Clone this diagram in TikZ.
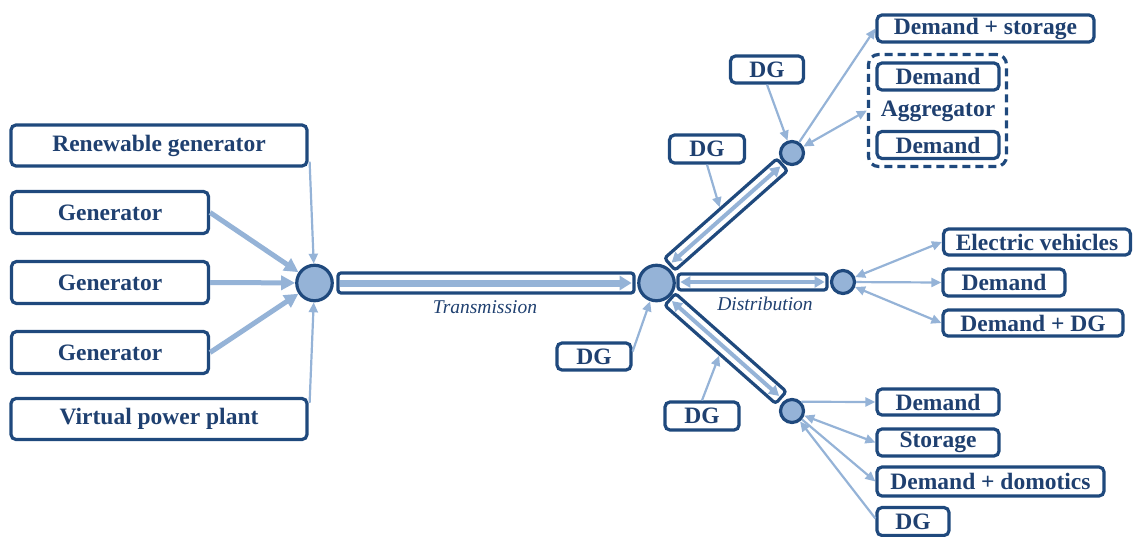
\documentclass[tikz,border=0pt]{standalone}
\usepackage{fontspec}
\setmainfont{Liberation Serif}
\usetikzlibrary{arrows.meta}
\definecolor{dblue}{RGB}{31,73,125}
\definecolor{lblue}{RGB}{149,179,215}
\definecolor{tblue}{RGB}{31,64,112}
\begin{document}
\begin{tikzpicture}[x=1pt,y=-1pt,
  box/.style={draw=dblue, line width=3.2pt, rounded corners=5pt, fill=white,
    inner sep=0pt, text=tblue, font=\fontsize{23.5}{26}\selectfont\bfseries},
  hub/.style={circle, draw=dblue, line width=3.2pt, fill=lblue, inner sep=0pt},
  bigHub/.style={hub, minimum size=35.5pt},
  smallHub/.style={hub, minimum size=23pt},
  bar/.style={draw=dblue, line width=3.2pt, rounded corners=3pt, fill=white, inner sep=0pt},
  link/.style={draw=lblue, line width=2.2pt, -{Triangle[length=10pt,width=9pt]}},
  dlink/.style={draw=lblue, line width=2.2pt, {Triangle[length=10pt,width=9pt]}-{Triangle[length=10pt,width=9pt]}},
  feed/.style={draw=lblue, line width=5pt, -{Triangle[length=14pt,width=14pt]}},
  trans/.style={draw=lblue, line width=7pt, -{Triangle[length=12pt,width=14pt]},
    shorten <=4pt, shorten >=4pt},
  dist/.style={draw=lblue, line width=4pt,
    {Triangle[length=10pt,width=11pt]}-{Triangle[length=10pt,width=11pt]},
    shorten <=4pt, shorten >=4pt},
  lab/.style={text=tblue, font=\fontsize{19.5}{22}\selectfont\itshape}]

\useasboundingbox (0,0) rectangle (1135,536);

% generation side
\node[box, minimum width=296pt, minimum height=41pt] (renew) at (159,145.5) {Renewable generator};
\node[box, minimum width=197pt, minimum height=42pt] (g1) at (110,212.5) {Generator};
\node[box, minimum width=197pt, minimum height=42pt] (g2) at (110,282.5) {Generator};
\node[box, minimum width=197pt, minimum height=42pt] (g3) at (110,352.5) {Generator};
\node[box, minimum width=296pt, minimum height=41pt] (vpp) at (159,419) {Virtual power plant};

% hubs
\node[bigHub] (n1) at (314.5,283) {};
\node[bigHub] (n2) at (656.5,283) {};
\node[smallHub] (nu) at (792,153) {};
\node[smallHub] (nr) at (843,282) {};
\node[smallHub] (nd) at (792,411) {};

% lines between hubs
\node[bar, minimum width=296pt, minimum height=20pt] (tbar) at (486,283) {};
\node[bar, minimum width=149pt, minimum height=16pt] (hbar) at (752.5,282) {};
\node[bar, minimum width=150pt, minimum height=16pt, rotate=41.5] (ubar) at (726,214.5) {};
\node[bar, minimum width=148pt, minimum height=16pt, rotate=-41.5] (dbar) at (725.5,348.5) {};

\draw[trans] (tbar.west) -- (tbar.east);
\draw[dist] (hbar.west) -- (hbar.east);
\draw[dist] (ubar.west) -- (ubar.east);
\draw[dist] (dbar.west) -- (dbar.east);

\node[lab] (tlab) at (485,307) {Transmission};
\node[lab] (dlab) at (765,304) {Distribution};

% distributed generation
\node[box, minimum width=73pt, minimum height=27pt] (dgA) at (767,69.5) {DG};
\node[box, minimum width=75pt, minimum height=28pt] (dgB) at (707,149) {DG};
\node[box, minimum width=74pt, minimum height=27pt] (dgC) at (594,356.5) {DG};
\node[box, minimum width=74pt, minimum height=28pt] (dgD) at (702,416) {DG};
\node[box, minimum width=72pt, minimum height=28pt] (dgE) at (913,521.5) {DG};

% consumers, upper branch
\node[box, minimum width=217pt, minimum height=27pt] (ds) at (985.5,28.5) {Demand + storage};
\node[draw=dblue, line width=3.2pt, dash pattern=on 8pt off 5pt, rounded corners=10pt,
  minimum width=138pt, minimum height=112pt, inner sep=0pt] (agg) at (937.5,110.5) {};
\node[box, minimum width=122pt, minimum height=27pt] (ad1) at (938,76.5) {Demand};
\node[box, minimum width=122pt, minimum height=27pt] (ad2) at (938,145) {Demand};
\node[text=tblue, font=\fontsize{23.5}{26}\selectfont\bfseries] (aggl) at (938,111) {Aggregator};

% consumers, middle branch
\node[box, minimum width=187pt, minimum height=26pt] (ev) at (1037,242) {Electric vehicles};
\node[box, minimum width=122pt, minimum height=27pt] (dm) at (1004,282.5) {Demand};
\node[box, minimum width=180pt, minimum height=26pt] (ddg) at (1033,323) {Demand + DG};

% consumers, lower branch
\node[box, minimum width=122pt, minimum height=26pt] (ld) at (938,402) {Demand};
\node[box, minimum width=122pt, minimum height=27pt] (st) at (938,442.5) {Storage};
\node[box, minimum width=227pt, minimum height=29pt] (dom) at (990.5,481.5) {Demand + domotics};

% feeds into the transmission hub
\draw[link] ([xshift=1pt,yshift=6pt]renew.south east) -- (n1);
\draw[feed] (g1.east) -- (n1);
\draw[feed] (g2.east) -- (n1);
\draw[feed] (g3.east) -- (n1);
\draw[link] ([xshift=1pt,yshift=-6pt]vpp.north east) -- (n1);

% DG connections
\draw[link] (dgA.south) -- (nu);
\draw[link] (dgB.south) -- (ubar.north);
\draw[link] ([yshift=5pt]dgC.east) -- (n2);
\draw[link] (dgD.north) -- (dbar.south);
\draw[link] ([yshift=3pt]dgE.west) -- (nd);

% upper branch links
\draw[link] (nu) -- (ds.west);
\draw[dlink] (nu) -- (agg.west);

% middle branch links
\draw[dlink] (nr) -- (ev.west);
\draw[link] (nr) -- (dm.west);
\draw[dlink] (nr) -- (ddg.west);

% lower branch links
\draw[link] (nd.north east) -- (ld.west);
\draw[dlink] (nd) -- (st.west);
\draw[link] (nd) -- (dom.west);
\end{tikzpicture}
\end{document}
